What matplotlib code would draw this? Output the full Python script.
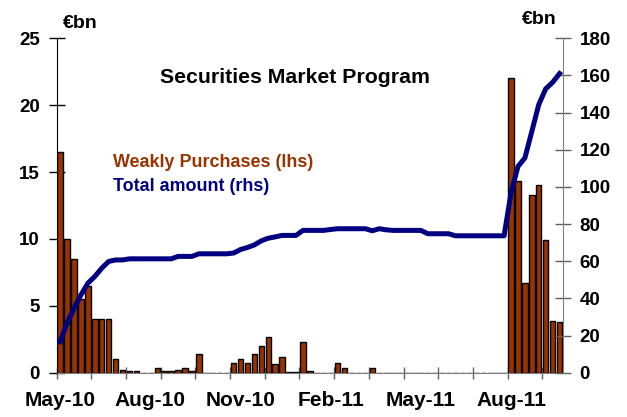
import matplotlib
matplotlib.use("Agg")
import matplotlib.pyplot as plt
import numpy as np

plt.rcParams['font.family'] = ['Liberation Sans', 'DejaVu Sans']
plt.rcParams['font.weight'] = 'bold'

# weekly categories (week starting dates), May-10 .. Sep-11
week_labels = {0: "May-10", 13: "Aug-10", 26: "Nov-10", 39: "Feb-11", 52: "May-11", 65: "Aug-11"}

weekly_purchases = [
    16.5, 10.0, 8.5, 5.5, 6.5, 4.0, 4.0, 4.0, 1.0, 0.2,
    0.1, 0.1, 0.0, 0.0, 0.35, 0.1, 0.1, 0.2, 0.35, 0.1,
    1.4, 0.0, 0.0, 0.0, 0.0, 0.75, 1.0, 0.75, 1.4, 2.0,
    2.65, 0.65, 1.15, 0.05, 0.05, 2.3, 0.1, 0.0, 0.0, 0.0,
    0.75, 0.35, 0.0, 0.0, 0.0, 0.35, 0.0, 0.0, 0.0, 0.0,
    0.0, 0.0, 0.0, 0.0, 0.0, 0.0, 0.0, 0.0, 0.0, 0.0,
    0.0, 0.0, 0.0, 0.0, 0.0, 22.0, 14.3, 6.7, 13.3, 14.05,
    9.9, 3.9, 3.8,
]

total_amount = [
    16.7, 26.6, 34.7, 41.9, 48.2, 51.8, 56.3, 59.9, 60.7, 60.7,
    61.3, 61.3, 61.3, 61.3, 61.3, 61.3, 61.3, 62.6, 62.6, 62.6,
    64.0, 64.0, 64.0, 64.0, 64.0, 64.4, 66.3, 67.4, 68.8, 71.0,
    72.4, 73.1, 73.9, 73.9, 73.9, 76.6, 76.6, 76.6, 76.6, 77.1,
    77.5, 77.5, 77.5, 77.5, 77.5, 76.4, 77.5, 76.9, 76.6, 76.6,
    76.6, 76.6, 76.6, 74.8, 74.8, 74.8, 74.8, 73.7, 73.7, 73.7,
    73.7, 73.7, 73.7, 73.7, 73.7, 96.7, 111.0, 115.6, 129.9, 144.3,
    152.8, 156.3, 161.0,
]

left_ticks = [0, 5, 10, 15, 20, 25]
right_ticks = [0, 20, 40, 60, 80, 100, 120, 140, 160, 180]

BROWN = "#993300"
NAVY = "#000080"
FS_Y = 13.5
FS_X = 15
FS_TITLE = 15.3
FS_LEG = 12.9
FS_UNIT = 14

n = len(weekly_purchases)
x = np.arange(n)
H = 417.0
W = 627.0

fig = plt.figure(figsize=(6.27, 4.17), dpi=100)
ax = fig.add_axes([0.0904, 0.1062, 0.898 - 0.0904, 0.9082 - 0.1062])
ax.bar(x, weekly_purchases, width=0.78, color=BROWN, edgecolor="black", linewidth=1.0, zorder=2)
ax.set_xlim(-0.5, n - 0.5)
ax.set_ylim(0, 25)
ax.set_yticks(left_ticks)
ax.set_yticklabels([str(t) for t in left_ticks], fontweight='bold')

ax.set_xticks(np.arange(-0.5, n - 0.5, 5))
ax.set_xticklabels([])
ax.set_xticks(list(week_labels.keys()), minor=True)
ax.set_xticklabels(list(week_labels.values()), minor=True, fontweight='bold')
ax.tick_params(axis='x', which='major', direction='inout', length=8, width=1, color='#606060')
ax.tick_params(axis='x', which='minor', length=0, pad=13, labelsize=FS_X)
ax.tick_params(axis='y', direction='inout', length=12, width=1, color='black', pad=6, labelsize=FS_Y)

for s in ['top', 'right']:
    ax.spines[s].set_visible(False)
ax.spines['left'].set_color('black')
ax.spines['bottom'].set_color('#808080')

ax2 = ax.twinx()
ax2.plot(x, total_amount, color=NAVY, linewidth=3.6, solid_joinstyle='round', zorder=3)
ax2.set_ylim(0, 180)
ax2.set_yticks(right_ticks)
ax2.set_yticklabels([str(t) for t in right_ticks], fontweight='bold')
ax2.tick_params(axis='y', direction='inout', length=12, width=1, color='#606060', pad=6, labelsize=FS_Y)
for s in ['top', 'left', 'bottom']:
    ax2.spines[s].set_visible(False)
ax2.spines['right'].set_color('#808080')

fig.text(63 / W, 1 - 28.3 / H, "€bn", ha='left', va='baseline', fontsize=FS_UNIT, fontweight='bold')
fig.text(521.7 / W, 1 - 24.3 / H, "€bn", ha='left', va='baseline', fontsize=FS_UNIT, fontweight='bold')
fig.text(160 / W, 1 - 83.3 / H, "Securities Market Program", ha='left', va='baseline', fontsize=FS_TITLE, fontweight='bold')
fig.text(113 / W, 1 - 166.7 / H, "Weakly Purchases (lhs)", ha='left', va='baseline', fontsize=FS_LEG, fontweight='bold', color=BROWN)
fig.text(113 / W, 1 - 190.7 / H, "Total amount (rhs)", ha='left', va='baseline', fontsize=FS_LEG, fontweight='bold', color=NAVY)

fig.savefig("out.png", dpi=100)
